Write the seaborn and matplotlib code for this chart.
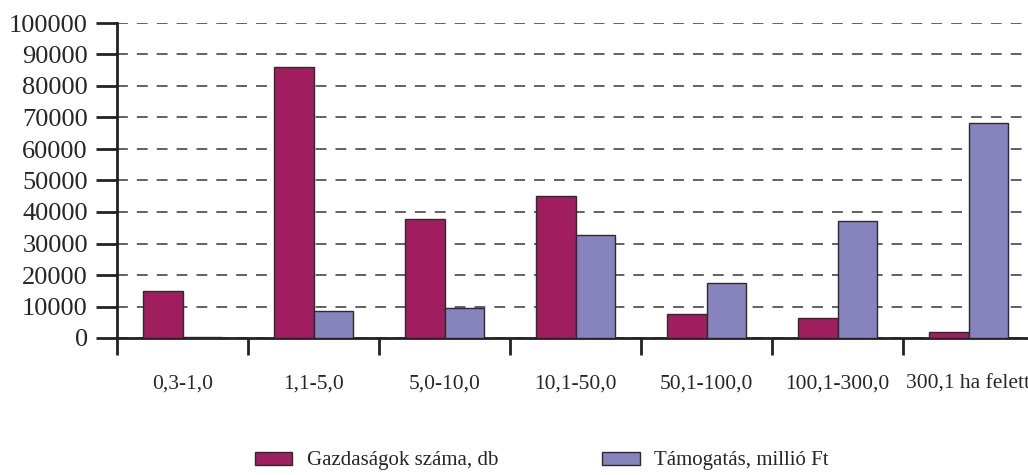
import pandas as pd
import numpy as np
import matplotlib.pyplot as plt
import seaborn as sns

# data
categories = ["0,3-1,0", "1,1-5,0", "5,0-10,0", "10,1-50,0", "50,1-100,0",
              "100,1-300,0", "300,1 ha felett"]
farms = [14800, 86000, 37700, 45000, 7500, 6300, 2000]
support = [300, 8500, 9600, 32700, 17600, 37100, 68200]
series_names = ["Gazdaságok száma, db", "Támogatás, millió Ft"]
colors = ["#a01e5f", "#8783bd"]

df = pd.DataFrame({
    "cat": categories * 2,
    "value": farms + support,
    "series": [series_names[0]] * len(categories) + [series_names[1]] * len(categories),
})

sns.set_style("white")
plt.rcParams["font.family"] = ["Liberation Serif", "DejaVu Serif"]

fig = plt.figure(figsize=(10.28, 4.75), dpi=100)
# axes runs past the right edge, as in the reference (last label is cut off)
ax = fig.add_axes([117 / 1028, 1 - 338 / 475, 917 / 1028, 315 / 475])

sns.barplot(data=df, x="cat", y="value", hue="series", palette=colors,
            saturation=1, width=0.6, edgecolor="#2b2b2b", linewidth=1.0,
            ax=ax, legend=True, zorder=3)

ax.set_xlim(-0.5, len(categories) - 0.5)
ax.set_ylim(0, 100000)
ax.set_yticks(np.arange(0, 100001, 10000))
ax.set_yticklabels([str(v) for v in range(0, 100001, 10000)], fontsize=19)
ax.yaxis.grid(True, linestyle=(0, (6, 5)), color="#555555", linewidth=1.3, zorder=0)
ax.set_axisbelow(True)

# category labels centred, tick marks on the boundaries
ax.set_xticks(range(len(categories)))
ax.set_xticklabels(categories, fontsize=15.5)
ax.tick_params(axis="x", which="major", bottom=True, length=0, pad=26)
ax.set_xticks(np.arange(-0.5, len(categories), 1.0), minor=True)
ax.tick_params(axis="x", which="minor", bottom=True, length=12, width=2,
               color="#222222", direction="out")
ax.tick_params(axis="y", left=True, length=15, width=2, color="#222222",
               direction="out", pad=6)

for side in ["top", "right"]:
    ax.spines[side].set_visible(False)
for side in ["left", "bottom"]:
    ax.spines[side].set_linewidth(2)
    ax.spines[side].set_color("#222222")

ax.set_xlabel("")
ax.set_ylabel("")

handles, labels = ax.get_legend_handles_labels()
ax.get_legend().remove()
fig.legend(handles, labels, loc="lower center", bbox_to_anchor=(0.527, -0.03),
           ncol=2, frameon=False, fontsize=15, handlelength=1.8, handleheight=0.6,
           columnspacing=5.0, handletextpad=0.7)

fig.savefig("out.png", dpi=100)
